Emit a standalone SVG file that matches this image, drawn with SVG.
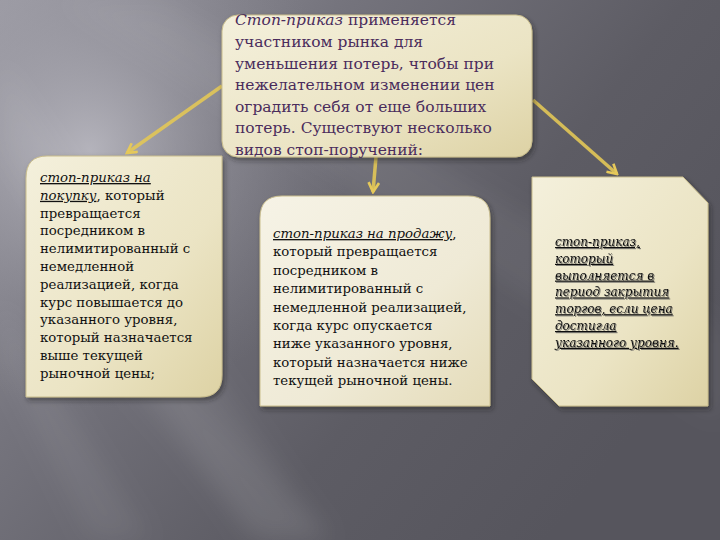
<svg xmlns="http://www.w3.org/2000/svg" width="720" height="540" viewBox="0 0 720 540">
<defs>
<linearGradient id="bg" x1="0" y1="0" x2="1" y2="0.6">
<stop offset="0" stop-color="#9d9ca5"/>
<stop offset="0.35" stop-color="#75747d"/>
<stop offset="0.7" stop-color="#5d5c64"/>
<stop offset="1" stop-color="#56555d"/>
</linearGradient>
<radialGradient id="glow" cx="90" cy="150" r="260" gradientUnits="userSpaceOnUse">
<stop offset="0" stop-color="#c4c3cb" stop-opacity="0.75"/>
<stop offset="0.5" stop-color="#a5a4ad" stop-opacity="0.35"/>
<stop offset="1" stop-color="#8a8992" stop-opacity="0"/>
</radialGradient>
<linearGradient id="cream" x1="0" y1="0" x2="1" y2="1">
<stop offset="0" stop-color="#f4f0dc"/>
<stop offset="0.6" stop-color="#ebe4c4"/>
<stop offset="1" stop-color="#ddd2a4"/>
</linearGradient>
<linearGradient id="cream2" x1="0" y1="0" x2="1" y2="1">
<stop offset="0" stop-color="#f6f3e6"/>
<stop offset="0.6" stop-color="#efead6"/>
<stop offset="1" stop-color="#e4dbb8"/>
</linearGradient>
<filter id="shadow" x="-10%" y="-10%" width="125%" height="125%">
<feDropShadow dx="2" dy="3" stdDeviation="2.5" flood-color="#222" flood-opacity="0.5"/>
</filter>
<filter id="tshadow" x="-5%" y="-5%" width="115%" height="115%">
<feDropShadow dx="1" dy="1" stdDeviation="0.6" flood-color="#555" flood-opacity="0.7"/>
</filter>
<filter id="blur" x="-20%" y="-20%" width="140%" height="140%">
<feGaussianBlur stdDeviation="12"/>
</filter>
<marker id="arr" viewBox="0 0 12 12" refX="10" refY="6" markerWidth="3.6" markerHeight="3.6" orient="auto" markerUnits="strokeWidth">
<path d="M1,1 L10,6 L1,11" fill="none" stroke="#e6c95a" stroke-width="2.5" stroke-linejoin="miter"/>
</marker>
<style>
.box{stroke:#c9bd8c;stroke-width:1;filter:url(#shadow)}
.t{font-family:"DejaVu Serif","Liberation Serif",serif}
.top{font-size:15.5px;fill:#4a2c5c}
.body{font-size:13.3px;fill:#111}
.it{font-size:12px;font-style:italic;fill:#111}
.u{text-decoration:underline}
.conn{stroke:#e2c657;stroke-width:3.5;fill:none;stroke-opacity:0.9;marker-end:url(#arr)}
</style>
</defs>

<rect width="720" height="540" fill="url(#bg)"/>
<rect width="720" height="540" fill="url(#glow)"/>
<g fill="#ffffff" filter="url(#blur)">
<polygon points="0,60 0,150 250,540 330,540" opacity="0.06"/>
<polygon points="60,0 160,0 720,330 720,420" opacity="0.05"/>
<polygon points="0,300 0,360 90,540 150,540" opacity="0.06"/>
<polygon points="120,380 180,380 330,540 260,540" opacity="0.05"/>
</g>

<g id="connectors">
<line class="conn" x1="222" y1="86" x2="127" y2="153"/>
<line class="conn" x1="376" y1="157" x2="373" y2="192"/>
<line class="conn" x1="533" y1="100" x2="617" y2="174"/>
</g>

<g id="node-top">
<rect class="box" x="222" y="15" width="310" height="142" rx="16" ry="16" fill="url(#cream)"/>
<text class="t top" x="235">
<tspan x="235" y="25"><tspan font-style="italic">Стоп-приказ</tspan> применяется</tspan>
<tspan x="235" y="47">участником рынка для</tspan>
<tspan x="235" y="68.5">уменьшения потерь, чтобы при</tspan>
<tspan x="235" y="90">нежелательном изменении цен</tspan>
<tspan x="235" y="111.5">оградить себя от еще больших</tspan>
<tspan x="235" y="133">потерь. Существуют несколько</tspan>
<tspan x="235" y="154.5">видов стоп-поручений:</tspan>
</text>
</g>

<g id="node-buy">
<path class="box" d="M47,156 H222 V375 Q222,397 200,397 H26 V178 Q26,156 47,156 Z" fill="url(#cream)"/>
<text class="t body">
<tspan x="40" y="182" font-style="italic" class="u">стоп-приказ на</tspan>
<tspan x="40" y="199.8"><tspan font-style="italic" class="u">покупку</tspan>, который</tspan>
<tspan x="40" y="217.6">превращается</tspan>
<tspan x="40" y="235.4">посредником в</tspan>
<tspan x="40" y="253.2">нелимитированный с</tspan>
<tspan x="40" y="271">немедленной</tspan>
<tspan x="40" y="288.8">реализацией, когда</tspan>
<tspan x="40" y="306.6">курс повышается до</tspan>
<tspan x="40" y="324.4">указанного уровня,</tspan>
<tspan x="40" y="342.2">который назначается</tspan>
<tspan x="40" y="360">выше текущей</tspan>
<tspan x="40" y="377.8">рыночной цены;</tspan>
</text>
</g>

<g id="node-sell">
<path class="box" d="M282,196 H468 Q490,196 490,218 V406 H260 V218 Q260,196 282,196 Z" fill="url(#cream2)"/>
<text class="t body">
<tspan x="273" y="238"><tspan font-style="italic" class="u">стоп-приказ на продажу</tspan>,</tspan>
<tspan x="273" y="256.4">который превращается</tspan>
<tspan x="273" y="274.8">посредником в</tspan>
<tspan x="273" y="293.2">нелимитированный с</tspan>
<tspan x="273" y="311.6">немедленной реализацией,</tspan>
<tspan x="273" y="330">когда курс опускается</tspan>
<tspan x="273" y="348.4">ниже указанного уровня,</tspan>
<tspan x="273" y="366.8">который назначается ниже</tspan>
<tspan x="273" y="385.2">текущей рыночной цены.</tspan>
</text>
</g>

<g id="node-close">
<path class="box" d="M532,177 H683 L708,203 V406 H559 L532,379 Z" fill="url(#cream)"/>
<text class="t it" filter="url(#tshadow)"><tspan class="u" x="555" y="246">стоп-приказ,</tspan><tspan class="u" x="555" y="262.8">который</tspan><tspan class="u" x="555" y="279.6">выполняется в</tspan><tspan class="u" x="555" y="296.4">период закрытия</tspan><tspan class="u" x="555" y="313.2">торгов, если цена</tspan><tspan class="u" x="555" y="330">достигла</tspan><tspan class="u" x="555" y="346.8">указанного уровня.</tspan></text>
</g>
</svg>
